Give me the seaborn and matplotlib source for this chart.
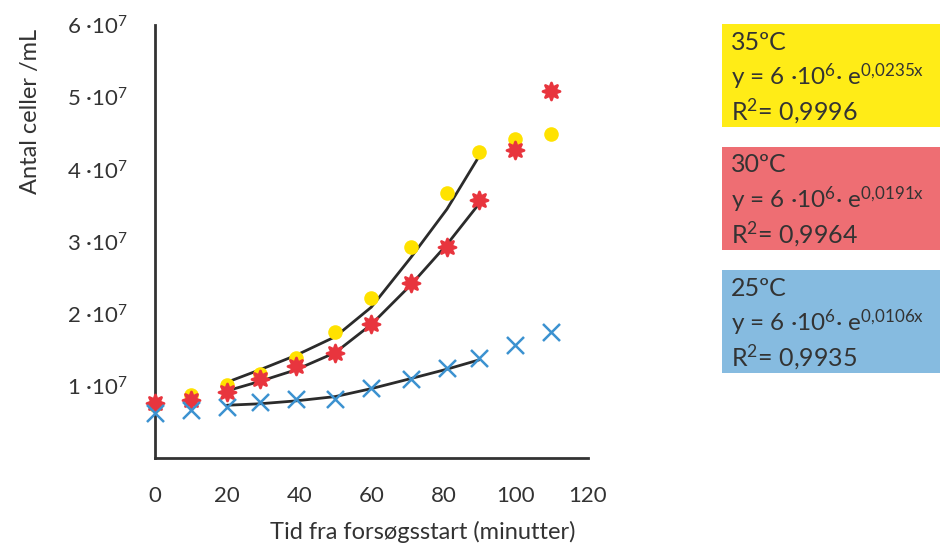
import matplotlib as mpl
mpl.use('Agg')

import matplotlib.pyplot as plt
import matplotlib.patches as mpatches
import seaborn as sns
import pandas as pd

sns.set_style("white")
plt.rcParams['font.family'] = ['Lato', 'DejaVu Sans']
plt.rcParams['mathtext.fontset'] = 'custom'
plt.rcParams['mathtext.rm'] = 'Lato'
plt.rcParams['mathtext.it'] = 'Lato'

# measured points (minutes, cells/mL in units of 1e7)
tid = [0, 10, 20, 29, 39, 50, 60, 71, 81, 90, 100, 110]
c35 = [0.73, 0.87, 1.01, 1.17, 1.39, 1.75, 2.22, 2.92, 3.67, 4.24, 4.42, 4.49]
c30 = [0.76, 0.80, 0.92, 1.10, 1.27, 1.46, 1.86, 2.43, 2.93, 3.57, 4.27, 5.09]
c25 = [0.62, 0.67, 0.70, 0.78, 0.81, 0.81, 0.97, 1.10, 1.24, 1.39, 1.56, 1.75]

# trend lines
tid_fit = [20, 29, 39, 50, 60, 71, 81, 90]
fit35 = [1.05, 1.22, 1.42, 1.68, 2.09, 2.78, 3.45, 4.19]
fit30 = [0.93, 1.06, 1.22, 1.46, 1.85, 2.40, 2.96, 3.53]
fit25 = [0.73, 0.75, 0.79, 0.85, 0.96, 1.10, 1.23, 1.36]

labels = ["35ºC", "30ºC", "25ºC"]
exps = ["0{,}0235x", "0{,}0191x", "0{,}0106x"]
r2 = ["0,9996", "0,9964", "0,9935"]

yticks = [1, 2, 3, 4, 5, 6]

pt_col = {"35": "#FFE200", "30": "#E8353E", "25": "#3C92D0"}
box_col = ["#FFEC17", "#EE6E73", "#86BBE0"]
ink = "#333333"

df = pd.DataFrame({
    "tid": tid * 3,
    "antal": [v * 1e7 for v in c35 + c30 + c25],
    "temp": ["35"] * len(tid) + ["30"] * len(tid) + ["25"] * len(tid),
})
fits = pd.DataFrame({
    "tid": tid_fit * 3,
    "antal": [v * 1e7 for v in fit35 + fit30 + fit25],
    "temp": ["35"] * len(tid_fit) + ["30"] * len(tid_fit) + ["25"] * len(tid_fit),
})

fig = plt.figure(figsize=(9.4, 5.49), dpi=100)
ax = fig.add_axes([0.165, 0.166, 0.46, 0.788])

sns.lineplot(data=fits, x="tid", y="antal", units="temp", estimator=None,
             color="#2b2b2b", lw=2, ax=ax, zorder=2)

sns.scatterplot(data=df[df.temp == "35"], x="tid", y="antal", color=pt_col["35"],
                marker="o", s=110, linewidth=0, ax=ax, zorder=3)
sns.scatterplot(data=df[df.temp == "30"], x="tid", y="antal", color=pt_col["30"],
                marker=(8, 1, 0), s=150, linewidth=2, edgecolor=pt_col["30"],
                ax=ax, zorder=4)
sns.scatterplot(data=df[df.temp == "25"], x="tid", y="antal", color=pt_col["25"],
                marker="x", s=150, linewidth=1.8, ax=ax, zorder=5)

ax.set_xlim(0, 120)
ax.set_ylim(0, 6e7)
ax.set_xticks(range(0, 121, 20))
ax.set_yticks([v * 1e7 for v in yticks])
ax.set_yticklabels([f"{v} ∙10$^{{7}}$" for v in yticks])
for s in ["top", "right"]:
    ax.spines[s].set_visible(False)
for s in ["left", "bottom"]:
    ax.spines[s].set_color(ink)
    ax.spines[s].set_linewidth(2)
ax.tick_params(axis="both", direction="out", length=14, width=2, color=ink,
               labelsize=16, labelcolor=ink, pad=6)
for c in ax.collections:
    c.set_clip_on(False)

ax.set_xlabel("Tid fra forsøgsstart (minutter)", fontsize=17, color=ink)
ax.xaxis.set_label_coords(0.618, -0.145)
ax.set_ylabel("Antal celler /mL", fontsize=17, color=ink)
ax.yaxis.set_label_coords(-0.265, 0.8)

# coloured info boxes on the right
tops = [24, 147, 270]
for i, top in enumerate(tops):
    y0 = 1 - (top + 103) / 549
    fig.patches.append(mpatches.Rectangle((722 / 940, y0), 0.25, 103 / 549,
                                          transform=fig.transFigure,
                                          facecolor=box_col[i], edgecolor="none"))
    x0 = 731 / 940
    fig.text(x0, 1 - (top + 18) / 549, labels[i], fontsize=18, color=ink, va="center")
    fig.text(x0, 1 - (top + 53) / 549,
             "y = 6 ∙10$^{6}$∙ e$^{\\mathregular{" + exps[i] + "}}$",
             fontsize=17.5, color=ink, va="center")
    fig.text(x0, 1 - (top + 87) / 549, "R$^{2}$= " + r2[i], fontsize=18, color=ink,
             va="center")

fig.savefig("out.png", dpi=100)
